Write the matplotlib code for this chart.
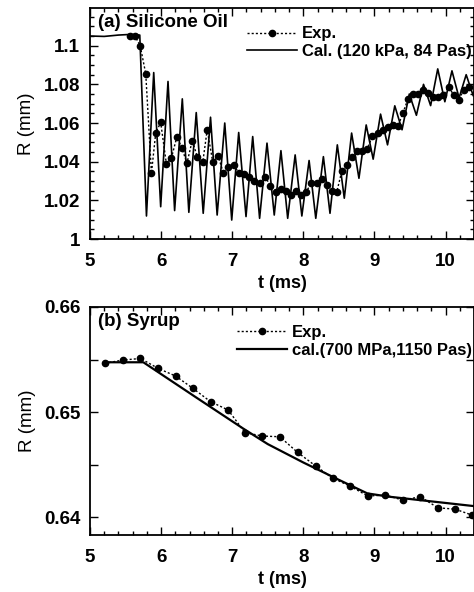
"""
Bubble radius vs time: silicone oil and syrup
"""
import matplotlib.pyplot as plt
from matplotlib.ticker import MultipleLocator, FixedLocator, FuncFormatter

plt.rcParams['font.family'] = ['Liberation Sans', 'DejaVu Sans']

# (a) silicone oil, experiment (every ~0.071 ms)
oil_exp_t = [5.560, 5.630, 5.705, 5.784, 5.864, 5.924, 5.994, 6.074, 6.144, 6.223,
             6.293, 6.363, 6.438, 6.508, 6.587, 6.648, 6.727, 6.802, 6.877, 6.947,
             7.021, 7.096, 7.171, 7.241, 7.311, 7.390, 7.465, 7.535, 7.614, 7.686,
             7.757, 7.829, 7.900, 7.971, 8.043, 8.114, 8.186, 8.257, 8.329, 8.400,
             8.471, 8.543, 8.614, 8.686, 8.757, 8.829, 8.900, 8.971, 9.043, 9.114,
             9.186, 9.257, 9.329, 9.400, 9.471, 9.543, 9.614, 9.686, 9.757, 9.829,
             9.900, 9.971, 10.043, 10.114, 10.186, 10.257, 10.329]
oil_exp_r = [1.1052, 1.1052, 1.1001, 1.0855, 1.0340, 1.0548, 1.0603, 1.0389, 1.0418, 1.0530,
             1.0470, 1.0392, 1.0509, 1.0426, 1.0400, 1.0565, 1.0397, 1.0430, 1.0340, 1.0375,
             1.0383, 1.0340, 1.0337, 1.0323, 1.0300, 1.0289, 1.0323, 1.0275, 1.0245, 1.0257,
             1.0250, 1.0228, 1.0250, 1.0228, 1.0245, 1.0292, 1.0292, 1.0311, 1.0280, 1.0250,
             1.0245, 1.0354, 1.0383, 1.0426, 1.0457, 1.0457, 1.0465, 1.0534, 1.0548, 1.0565,
             1.0579, 1.0590, 1.0582, 1.0651, 1.0724, 1.0751, 1.0751, 1.0772, 1.0755, 1.0734,
             1.0737, 1.0746, 1.0786, 1.0746, 1.0720, 1.0772, 1.0786]

# (a) silicone oil, calculation (read at the turning points)
oil_cal_t = [5.00, 5.20, 5.40, 5.55, 5.70, 5.794, 5.896, 5.994, 6.097, 6.190,
             6.298, 6.390, 6.494, 6.592, 6.695, 6.788, 6.895, 6.993, 7.091, 7.194,
             7.288, 7.385, 7.489, 7.591, 7.685, 7.780, 7.885, 7.979, 8.081, 8.175,
             8.282, 8.375, 8.478, 8.576, 8.679, 8.782, 8.884, 8.982, 9.086, 9.184,
             9.286, 9.388, 9.490, 9.590, 9.690, 9.790, 9.890, 9.990, 10.090, 10.190,
             10.290, 10.390, 10.40]
oil_cal_r = [1.1050, 1.1048, 1.1055, 1.1058, 1.1055, 1.0119, 1.0861, 1.0167, 1.0815, 1.0147,
             1.0725, 1.0138, 1.0654, 1.0133, 1.0630, 1.0124, 1.0600, 1.0098, 1.0551, 1.0116,
             1.0530, 1.0107, 1.0496, 1.0124, 1.0457, 1.0107, 1.0435, 1.0119, 1.0406, 1.0107,
             1.0426, 1.0133, 1.0487, 1.0211, 1.0548, 1.0314, 1.0590, 1.0413, 1.0646, 1.0487,
             1.0689, 1.0565, 1.0750, 1.0640, 1.0800, 1.0690, 1.0880, 1.0710, 1.0870, 1.0730,
             1.0850, 1.0740, 1.0760]

# (b) syrup
syr_exp_t = [5.21, 5.458, 5.71, 5.957, 6.204, 6.447, 6.695, 6.942, 7.18, 7.423,
             7.67, 7.918, 8.175, 8.417, 8.655, 8.908, 9.155, 9.398, 9.645, 9.892,
             10.135, 10.37]
syr_exp_r = [0.65464, 0.65495, 0.65510, 0.65416, 0.65343, 0.65226, 0.65099, 0.65020, 0.64804, 0.64772,
             0.64765, 0.64617, 0.64486, 0.64370, 0.64296, 0.64201, 0.64210, 0.64162, 0.64194, 0.64089,
             0.64076, 0.64020]
syr_cal_t = [5.21, 5.75, 6.5, 7.15, 7.5, 8.0, 8.5, 8.9, 9.2, 9.6, 10.0, 10.4]
syr_cal_r = [0.65474, 0.65474, 0.65136, 0.64845, 0.64695, 0.64520, 0.64355, 0.64226,
             0.64195, 0.64165, 0.64135, 0.64105]

BOLD = dict(fontweight='bold')
DOTTED = (0, (1.5, 1.5))


def style_axis(ax):
    for spine in ax.spines.values():
        spine.set_linewidth(1.3)
    ax.tick_params(which='both', direction='in', top=True, right=True, width=1.0,
                   labelsize=13.5)
    ax.tick_params(axis='x', pad=10)
    ax.tick_params(axis='y', pad=7)
    ax.tick_params(which='major', length=6)
    ax.tick_params(which='minor', length=3)
    for lab in ax.get_xticklabels() + ax.get_yticklabels():
        lab.set_fontweight('bold')
    ax.set_xlim(5, 10.4)
    ax.xaxis.set_major_locator(MultipleLocator(1))
    ax.xaxis.set_minor_locator(MultipleLocator(0.2))
    ax.set_xlabel('t (ms)', fontsize=13, labelpad=4, **BOLD)
    ax.set_ylabel('R (mm)', fontsize=13.5, labelpad=6)


def add_legend(ax):
    ax.legend(loc='upper right', frameon=False, prop=dict(size=12, weight='bold'),
              handlelength=3.0, handletextpad=0.3, labelspacing=0.15,
              borderaxespad=0.0, borderpad=0.0, bbox_to_anchor=(0.995, 0.92))


fig = plt.figure(figsize=(4.74, 5.92), dpi=100)
ax1 = fig.add_axes([90 / 474, 1 - 239 / 592, 384 / 474, 231 / 592])
ax2 = fig.add_axes([90 / 474, 1 - 535 / 592, 384 / 474, 228 / 592])

ax1.plot(oil_exp_t, oil_exp_r, color='black', ls=DOTTED, lw=1.0, marker='o', ms=4.5,
         label='Exp.')
ax1.plot(oil_cal_t, oil_cal_r, color='black', ls='-', lw=1.2,
         solid_joinstyle='round', label='Cal. (120 kPa, 84 Pas)')
ax1.set_ylim(1.0, 1.1195)
ax1.yaxis.set_major_locator(MultipleLocator(0.02))
ax1.yaxis.set_minor_locator(MultipleLocator(0.005))
ax1.yaxis.set_major_formatter(FuncFormatter(lambda v, p: f'{v:.2f}'.rstrip('0').rstrip('.')))
style_axis(ax1)
ax1.text(0.02, 0.975, '(a) Silicone Oil', transform=ax1.transAxes, fontsize=13.5,
         va='top', ha='left', **BOLD)
add_legend(ax1)

ax2.plot(syr_exp_t, syr_exp_r, color='black', ls=DOTTED, lw=1.0, marker='o', ms=4.5,
         label='Exp.')
ax2.plot(syr_cal_t, syr_cal_r, color='black', ls='-', lw=1.6,
         label='cal.(700 MPa,1150 Pas)')
ax2.set_ylim(0.6383, 0.66)
ax2.yaxis.set_major_locator(FixedLocator([0.64, 0.645, 0.65, 0.655, 0.66]))
ax2.yaxis.set_major_formatter(FuncFormatter(
    lambda v, p: f'{v:.2f}' if abs(v * 100 - round(v * 100)) < 1e-6 else ''))
style_axis(ax2)
ax2.text(0.02, 0.975, '(b) Syrup', transform=ax2.transAxes, fontsize=13.5,
         va='top', ha='left', **BOLD)
add_legend(ax2)

fig.savefig('out.png', dpi=100)
plt.close(fig)
